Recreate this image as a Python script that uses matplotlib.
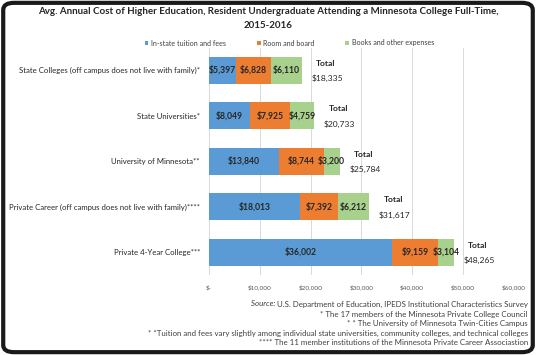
import matplotlib
matplotlib.use('Agg')
import matplotlib.pyplot as plt
from matplotlib.patches import FancyBboxPatch
import numpy as np

plt.rcParams['font.family'] = ['Lato', 'DejaVu Sans']

#%% Data

categories = ['State Colleges (off campus does not live with family)*',
              'State Universities*',
              'University of Minnesota**',
              'Private Career (off campus does not live with family)****',
              'Private 4-Year College***']
tuition = [5397, 8049, 13840, 18013, 36002]
room = [6828, 7925, 8744, 7392, 9159]
books = [6110, 4759, 3200, 6212, 3104]
totals = [18335, 20733, 25784, 31617, 48265]
series_names = ['In-state tuition and fees', 'Room and board', 'Books and other expenses']
tick_vals = [0, 10000, 20000, 30000, 40000, 50000, 60000]
footnotes = ['* The 17 members of the Minnesota Private College Council',
             '* * The University of Minnesota Twin-Cities Campus',
             '* *Tuition and fees vary slightly among individual state universities, community colleges, and technical colleges',
             '**** The 11 member institutions of the Minnesota Private Career Associastion']

colors = ['#5B9BD5', '#ED7D31', '#A9D18E']
txt_dark = '#262626'


def fit_width(t, target_px):
    # rescale a text's font size so that it spans target_px
    bb = t.get_window_extent(fig.canvas.get_renderer())
    t.set_fontsize(t.get_fontsize() * target_px / bb.width)


#%% Chart

fig = plt.figure(figsize=(5.36, 3.55), dpi=100)
ax = fig.add_axes([209/536, 1 - 275/355, 304.5/536, 227.5/355])

y = np.arange(len(categories))
left = np.zeros(len(categories))
bars = []
for vals, c, name in zip([tuition, room, books], colors, series_names):
    b = ax.barh(y, vals, left=left, height=0.6, color=c, label=name, zorder=3)
    for yi, l, v in zip(y, left, vals):
        ax.text(l + v / 2, yi, '${:,.0f}'.format(v), ha='center', va='center',
                fontsize=6.2, fontweight='bold', color=txt_dark, zorder=4)
    left = left + np.array(vals)
    bars.append(b)

for yi, t in zip(y, totals):
    ax.text(t + 2800, yi - 0.15, 'Total', ha='left', va='center', fontsize=6.1,
            fontweight='bold', color=txt_dark)
    ax.text(t + 1900, yi + 0.18, '${:,.0f}'.format(t), ha='left', va='center', fontsize=6.1,
            color=txt_dark)

ax.set_xlim(0, 60000)
ax.set_ylim(len(categories) - 0.5, -0.5)
ax.set_xticks(tick_vals)
ax.set_xticklabels(['$-' if v == 0 else '${:,.0f}'.format(v) for v in tick_vals],
                   fontsize=4.6, color='#595959')
ax.set_yticks(y)
ax.set_yticklabels(categories, fontsize=5.6, color=txt_dark)
ax.tick_params(length=0, pad=7)
ax.tick_params(axis='y', pad=6.5)
ax.grid(axis='x', color='#D9D9D9', linewidth=0.7, zorder=0)
for s in ax.spines.values():
    s.set_visible(False)

fig.legend(handles=bars, labels=series_names, loc='center', bbox_to_anchor=(0.54, 1 - 43/355),
           ncol=3, frameon=False, fontsize=5.1, handlelength=0.55, handleheight=0.55,
           columnspacing=4.3, handletextpad=0.4, labelcolor='#404040')

title1 = fig.text(0.5, 1 - 11/355, 'Avg. Annual Cost of Higher Education, Resident Undergraduate Attending a Minnesota College Full-Time,',
                  ha='center', va='center', fontsize=7, fontweight='bold', color='#262626')
fig.canvas.draw()
fit_width(title1, 461)
title2 = fig.text(0.5, 1 - 26/355, '2015-2016', ha='center', va='center',
                  fontsize=title1.get_fontsize(), fontweight='bold', color='#262626')

# source / footnotes
x_r = 528/536
main = fig.text(x_r, 1 - 304/355, 'U.S. Department of Education, IPEDS Institutional Characteristics Survey',
                ha='right', va='center', fontsize=5.7, color='#404040')
src = fig.text(x_r, 1 - 304/355, 'Source: ', ha='right', va='center', fontsize=5.7,
               style='italic', color='#404040')
fig.canvas.draw()
bb = main.get_window_extent(fig.canvas.get_renderer())
src.set_x(bb.x0 / fig.bbox.width)

for i, line in enumerate(footnotes):
    fig.text(x_r, 1 - (314 + i * 9.5) / 355, line, ha='right', va='center', fontsize=5.7,
             color='#404040')

# rounded frame
frame = FancyBboxPatch((0.006, 0.008), 0.988, 0.984, boxstyle='round,pad=0,rounding_size=0.02',
                       transform=fig.transFigure, fill=False, edgecolor='#1a1a1a', linewidth=3)
fig.patches.append(frame)

plt.savefig('out.png', dpi=100)
